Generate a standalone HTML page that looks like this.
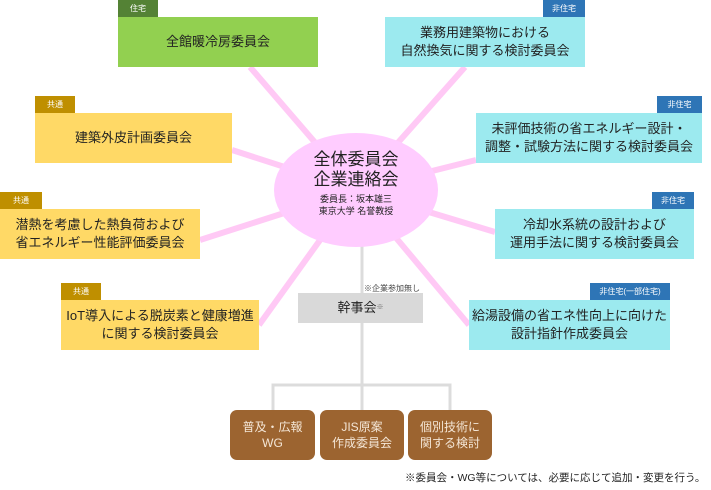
<!DOCTYPE html>
<html><head><meta charset="utf-8"><style>
body{margin:0;width:711px;height:490px;background:#fff;position:relative;overflow:hidden;font-family:"Liberation Sans","Noto Sans CJK JP",sans-serif;}
.b{position:absolute;display:flex;align-items:center;justify-content:center;text-align:center;font-size:13px;line-height:18px;color:#222;box-sizing:border-box;}
.t{position:absolute;color:#fff;font-size:8px;display:flex;align-items:center;justify-content:center;height:17px;}
.g{background:#92d050}.c{background:#9ceaef}.y{background:#ffd966}
.br{background:#9c6430;color:#f4e6d6;border-radius:7px;font-size:12px;line-height:16px}
</style></head><body>
<svg width="711" height="490" style="position:absolute;left:0;top:0">
<g stroke="#ffc9f5" stroke-width="6">
<line x1="356" y1="190" x2="250" y2="67"/>
<line x1="356" y1="190" x2="465" y2="67"/>
<line x1="356" y1="190" x2="232" y2="150"/>
<line x1="356" y1="190" x2="476" y2="160"/>
<line x1="356" y1="190" x2="200" y2="240"/>
<line x1="356" y1="190" x2="495" y2="232"/>
<line x1="356" y1="190" x2="259" y2="325"/>
<line x1="356" y1="190" x2="469" y2="325"/>
</g>
<g stroke="#dcdcdc" stroke-width="3" fill="none">
<line x1="362" y1="240" x2="362" y2="410"/>
<polyline points="273,410 273,385 450,385 450,410"/>
</g>
<ellipse cx="356" cy="190" rx="82" ry="57" fill="#ffccff"/>
</svg>
<div class="b" style="left:274px;top:150px;width:164px;flex-direction:column;font-size:17px;line-height:20px">全体委員会<br>企業連絡会<span style="font-size:9px;line-height:12px;margin-top:3px">委員長：坂本雄三<br>東京大学 名誉教授</span></div>

<div class="t" style="left:118px;top:0;width:40px;background:#548235">住宅</div>
<div class="b g" style="left:118px;top:17px;width:200px;height:50px">全館暖冷房委員会</div>
<div class="t" style="left:543px;top:0;width:42px;background:#2e75b6">非住宅</div>
<div class="b c" style="left:385px;top:17px;width:200px;height:50px">業務用建築物における<br>自然換気に関する検討委員会</div>
<div class="t" style="left:35px;top:96px;width:40px;background:#bf8f00">共通</div>
<div class="b y" style="left:35px;top:113px;width:197px;height:50px">建築外皮計画委員会</div>
<div class="t" style="left:657px;top:96px;width:45px;background:#2e75b6">非住宅</div>
<div class="b c" style="left:476px;top:113px;width:226px;height:50px">未評価技術の省エネルギー設計・<br>調整・試験方法に関する検討委員会</div>
<div class="t" style="left:0;top:192px;width:42px;background:#bf8f00">共通</div>
<div class="b y" style="left:0;top:209px;width:200px;height:50px">潜熱を考慮した熱負荷および<br>省エネルギー性能評価委員会</div>
<div class="t" style="left:652px;top:192px;width:42px;background:#2e75b6">非住宅</div>
<div class="b c" style="left:495px;top:209px;width:199px;height:50px">冷却水系統の設計および<br>運用手法に関する検討委員会</div>
<div class="t" style="left:61px;top:283px;width:40px;background:#bf8f00">共通</div>
<div class="b y" style="left:61px;top:300px;width:198px;height:50px">IoT導入による脱炭素と健康増進<br>に関する検討委員会</div>
<div class="t" style="left:590px;top:283px;width:80px;background:#2e75b6">非住宅(一部住宅)</div>
<div class="b c" style="left:469px;top:300px;width:201px;height:50px">給湯設備の省エネ性向上に向けた<br>設計指針作成委員会</div>

<div style="position:absolute;left:364px;top:283px;font-size:8px;color:#444">※企業参加無し</div>
<div class="b" style="left:298px;top:293px;width:125px;height:30px;background:#d9d9d9;font-size:13px">幹事会<sup style="font-size:7px;color:#666">※</sup></div>

<div class="b br" style="left:230px;top:410px;width:85px;height:50px">普及・広報<br>WG</div>
<div class="b br" style="left:320px;top:410px;width:84px;height:50px">JIS原案<br>作成委員会</div>
<div class="b br" style="left:408px;top:410px;width:84px;height:50px">個別技術に<br>関する検討</div>
<div style="position:absolute;left:405px;top:470px;font-size:10.5px;color:#222;white-space:nowrap">※委員会・WG等については、必要に応じて追加・変更を行う。</div>
</body></html>
